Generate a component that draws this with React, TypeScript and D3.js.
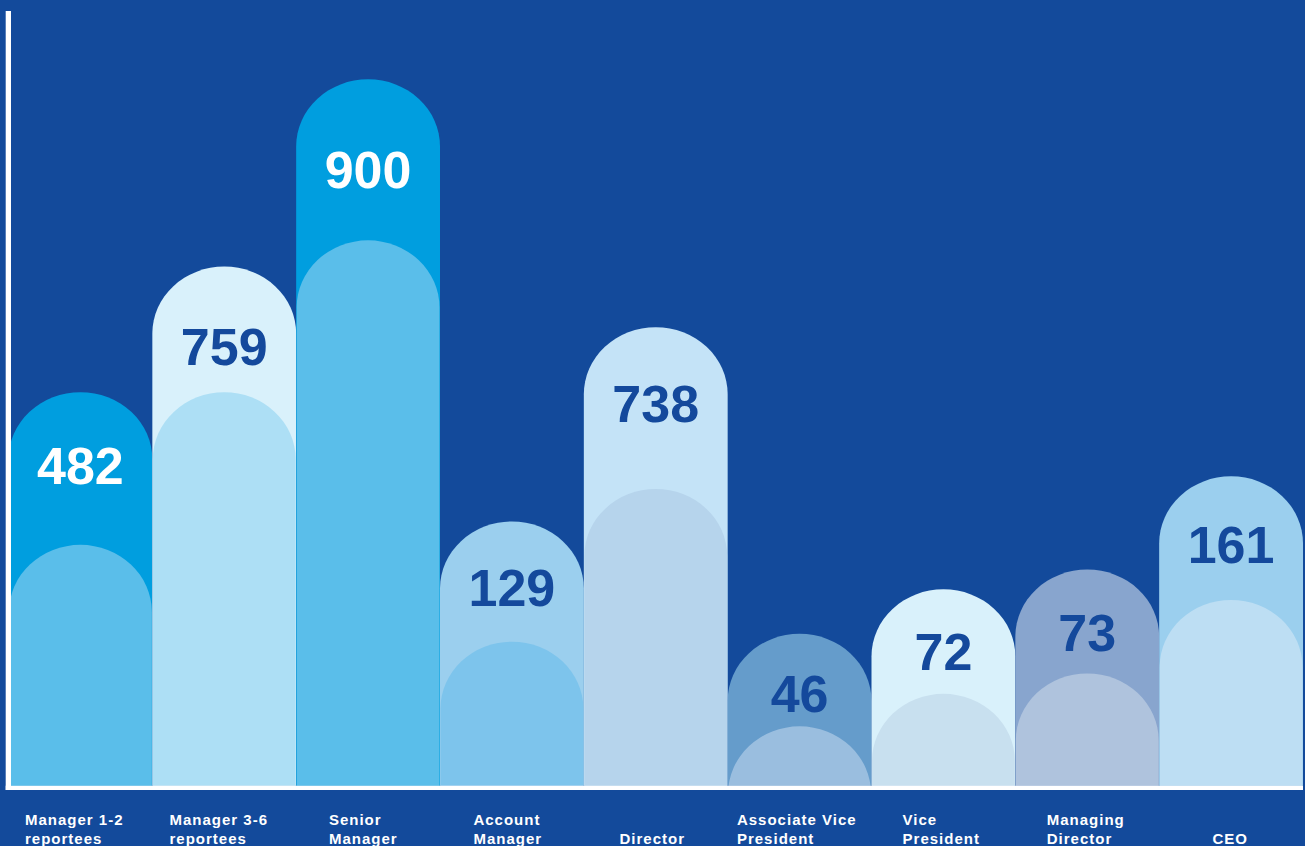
import React, { useEffect, useRef } from "react";
import * as d3 from "d3";

// ---- data ----
const categories: string[][] = [
  ["Manager 1-2", "reportees"],
  ["Manager 3-6", "reportees"],
  ["Senior", "Manager"],
  ["Account", "Manager"],
  ["Director"],
  ["Associate Vice", "President"],
  ["Vice", "President"],
  ["Managing", "Director"],
  ["CEO"],
];
const values = [482, 759, 900, 129, 738, 46, 72, 73, 161];
// displayed heights of the outer and inner shapes (0-100 visual scale)
const barLevels = [55.7, 73.5, 100, 37.4, 64.9, 21.5, 27.8, 30.6, 43.8];
const innerLevels = [34.1, 55.7, 77.2, 20.4, 42.0, 8.4, 13.0, 15.9, 26.3];

// ---- styles ----
const outerColors = ["#009edf", "#d9f1fb", "#009edf", "#9bcfee", "#c4e3f7", "#659ccb", "#d9f1fb", "#88a5ce", "#9bcfee"];
const innerColors = ["#5abeea", "#addff5", "#5abeea", "#7dc4ec", "#b6d4ec", "#9abedf", "#c8e0ef", "#afc3dd", "#bddef3"];
const valueColors = ["#ffffff", "#14499c", "#ffffff", "#14499c", "#14499c", "#14499c", "#14499c", "#14499c", "#14499c"];
const BG = "#134a9b";
const FONT = "'Liberation Sans', Arial, Helvetica, sans-serif";

const W = 1305;
const H = 846;

export default function App() {
  const ref = useRef<SVGSVGElement | null>(null);

  useEffect(() => {
    document.body.style.margin = "0";
    const svg = d3.select(ref.current);
    svg.selectAll("*").remove();

    const base = 785.7;
    const idx = d3.range(categories.length);
    const x = d3.scaleBand<number>().domain(idx).range([8.5, 1303]).padding(0);
    const xLab = d3.scaleBand<number>().domain(idx).range([1.5, 1302]).padding(0);
    const y = d3.scaleLinear().domain([0, 100]).range([base, 79.3]);
    const ry = 67;

    svg.append("rect").attr("x", 0).attr("y", 0).attr("width", W).attr("height", H).attr("fill", BG);

    const defs = svg.append("defs");
    defs
      .append("clipPath")
      .attr("id", "plotClip")
      .append("rect")
      .attr("x", 0)
      .attr("y", 0)
      .attr("width", W)
      .attr("height", base);

    const capPath = (x0: number, x1: number, t: number) => {
      const rx = (x1 - x0) / 2;
      const yy = t + ry;
      const b = base + 2;
      return `M${x0},${b}L${x0},${yy}A${rx},${ry} 0 0 1 ${x1},${yy}L${x1},${b}Z`;
    };

    const g = svg.append("g").attr("clip-path", "url(#plotClip)");

    g.selectAll("path.outer")
      .data(idx)
      .join("path")
      .attr("class", "outer")
      .attr("d", (i) => capPath(x(i)!, x(i)! + x.bandwidth(), y(barLevels[i])))
      .attr("fill", (i) => outerColors[i]);

    g.selectAll("path.inner")
      .data(idx)
      .join("path")
      .attr("class", "inner")
      .attr("d", (i) => capPath(x(i)! + 0.5, x(i)! + x.bandwidth() - 0.5, y(innerLevels[i])))
      .attr("fill", (i) => innerColors[i]);

    svg
      .selectAll("text.val")
      .data(idx)
      .join("text")
      .attr("class", "val")
      .attr("x", (i) => x(i)! + x.bandwidth() / 2)
      .attr("y", (i) => {
        const top = y(barLevels[i]);
        return top + 70 + 0.055 * (base - top);
      })
      .attr("text-anchor", "middle")
      .attr("font-family", FONT)
      .attr("font-weight", "bold")
      .attr("font-size", 52)
      .attr("fill", (i) => valueColors[i])
      .text((i) => String(values[i]));

    // axes lines
    svg.append("rect").attr("x", 5.7).attr("y", 11).attr("width", 5.3).attr("height", 790 - 11).attr("fill", "#ffffff");
    svg.append("rect").attr("x", 5.7).attr("y", base).attr("width", 1303 - 5.7).attr("height", 4.3).attr("fill", "#ffffff");

    // category labels
    const labG = svg.append("g");
    idx.forEach((i) => {
      const lines = categories[i];
      const t = labG
        .append("text")
        .attr("font-family", FONT)
        .attr("font-weight", "bold")
        .attr("font-size", 15)
        .attr("letter-spacing", 1)
        .attr("fill", "#ffffff");
      const startLine = 2 - lines.length;
      const tspans = lines.map((ln, k) =>
        t
          .append("tspan")
          .attr("x", 0)
          .attr("y", 825.3 + (startLine + k) * 18.2)
          .text(ln)
      );
      let wmax = 0;
      tspans.forEach((ts) => {
        const node = ts.node() as SVGTSpanElement;
        const w = node.getComputedTextLength();
        if (w > wmax) wmax = w;
      });
      const cx = xLab(i)! + xLab.bandwidth() / 2;
      const left = cx - (wmax - 1) / 2;
      tspans.forEach((ts) => ts.attr("x", left));
    });
  }, []);

  return (
    <svg
      ref={ref}
      width={W}
      height={H}
      style={{ position: "absolute", left: 0, top: 0, display: "block" }}
    />
  );
}
